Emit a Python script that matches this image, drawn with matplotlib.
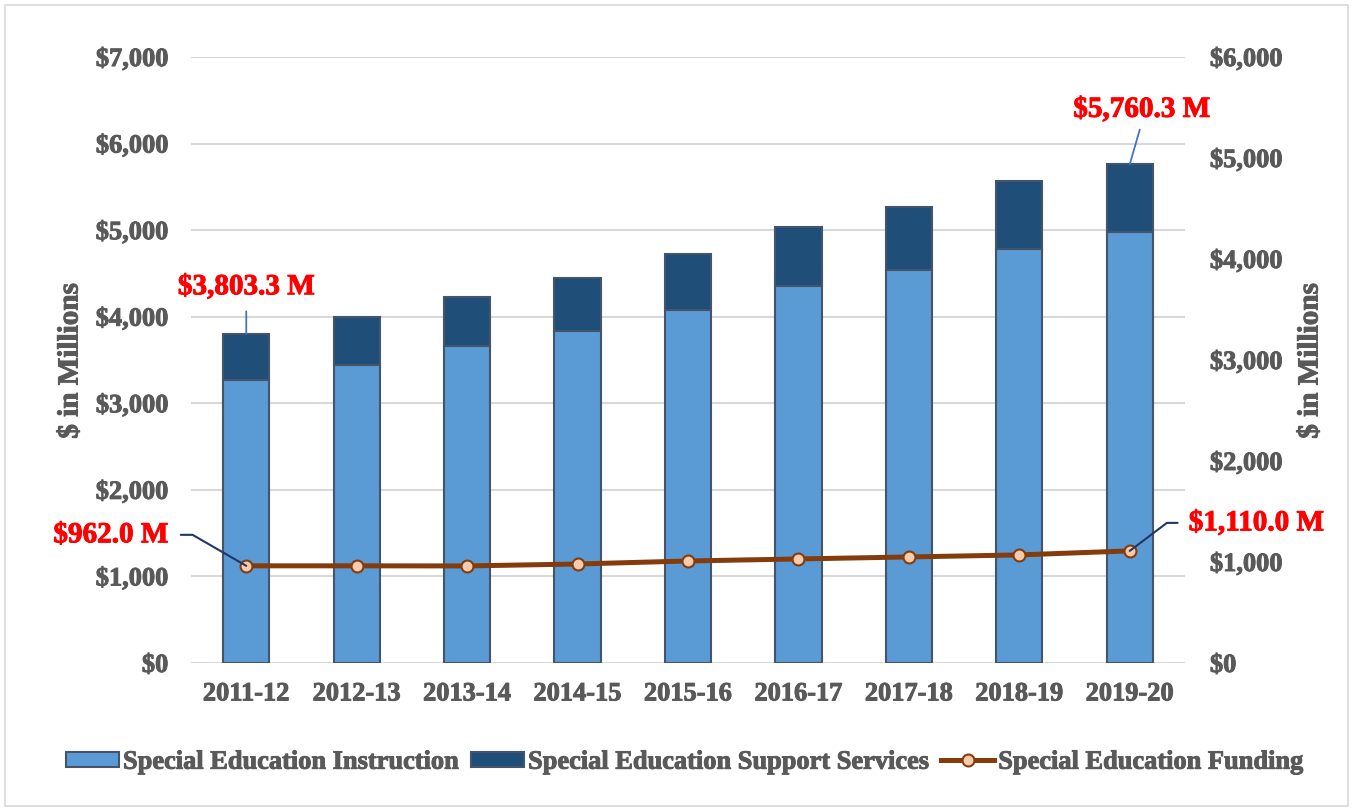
import matplotlib
matplotlib.use("Agg")
import matplotlib.pyplot as plt
import matplotlib.patheffects as pe
from matplotlib.patches import Patch, Rectangle
from matplotlib.lines import Line2D
from matplotlib.ticker import FuncFormatter

# Data ($ in millions)
years = ['2011-12', '2012-13', '2013-14', '2014-15', '2015-16',
         '2016-17', '2017-18', '2018-19', '2019-20']
instruction = [3270, 3442, 3662, 3835, 4078, 4355, 4540, 4782, 4979]
total_spend = [3803.3, 3995, 4228, 4447, 4725, 5036, 5267, 5568, 5760.3]
support = [t - i for t, i in zip(total_spend, instruction)]
funding = [962.0, 962, 961, 980, 1010, 1030, 1050, 1070, 1110.0]

left_ticks = list(range(0, 7001, 1000))
right_ticks = list(range(0, 6001, 1000))

plt.rcParams['font.family'] = ['Liberation Serif', 'DejaVu Serif']
plt.rcParams['font.weight'] = 'bold'

gray = '#595959'
light_blue = '#5B9BD5'
dark_blue = '#1F4E79'
bar_edge = '#44546A'
brown = '#843C0C'
peach = '#F8CBAD'


def heavy(color):
    # thicken glyphs a little, the source was rendered with a heavier bold
    return [pe.withStroke(linewidth=0.7, foreground=color)]


fig = plt.figure(figsize=(13.53, 8.10), dpi=100)
ax = fig.add_axes([0.1412, 0.1815, 0.7346, 0.7481])
ax2 = ax.twinx()

x = list(range(len(years)))
ax.bar(x, instruction, width=0.42, color=light_blue, edgecolor=bar_edge,
       linewidth=1.5, zorder=3)
ax.bar(x, support, bottom=instruction, width=0.42, color=dark_blue,
       edgecolor=bar_edge, linewidth=1.5, zorder=3)

ax2.plot(x, funding, color=brown, lw=3.6, marker='o', ms=8.6,
         mfc=peach, mec=brown, mew=1.5, zorder=4)

money = FuncFormatter(lambda v, p: '${:,.0f}'.format(v))

ax.set_xlim(-0.5, len(years) - 0.5)
ax.set_ylim(0, 7000)
ax.set_yticks(left_ticks)
ax.yaxis.set_major_formatter(money)
ax.set_xticks(x)
ax.set_xticklabels(years)
ax.grid(axis='y', color='#D9D9D9', lw=1.5, zorder=0)
ax.set_axisbelow(True)

ax2.set_ylim(0, 6000)
ax2.set_yticks(right_ticks)
ax2.yaxis.set_major_formatter(money)

for a in (ax, ax2):
    for s in a.spines.values():
        s.set_visible(False)
    a.tick_params(length=0, labelsize=19, labelcolor=gray)
ax.tick_params(axis='y', pad=16.5)
ax.tick_params(axis='x', pad=14)
ax2.tick_params(axis='y', pad=18)

fig.canvas.draw()
for t in ax.get_xticklabels() + ax.get_yticklabels() + ax2.get_yticklabels():
    t.set_fontweight('bold')
    t.set_path_effects(heavy(gray))

for xpos in (70, 1310):
    fig.text(xpos / 1353, 1 - 361 / 810, '$ in Millions', rotation=90,
             ha='center', va='center', fontsize=21, color=gray,
             fontweight='bold', path_effects=heavy(gray))

# callouts
lab = dict(fontsize=21, color='#FF0000', fontweight='bold', va='center',
           path_effects=heavy('#FF0000'))
ax.annotate('${:,.1f} M'.format(total_spend[0]), xy=(0, total_spend[0]),
            xytext=(0, 47), textcoords='offset pixels', ha='center', **lab,
            arrowprops=dict(arrowstyle='-', color='#4472C4', lw=1.3,
                            relpos=(0.5, 0), shrinkA=6, shrinkB=0))
ax.annotate('${:,.1f} M'.format(total_spend[-1]), xy=(8, total_spend[-1]),
            xytext=(12, 55), textcoords='offset pixels', ha='center', **lab,
            arrowprops=dict(arrowstyle='-', color='#4472C4', lw=1.3,
                            relpos=(0.5, 0), shrinkA=3, shrinkB=0))
ax2.annotate('${:,.1f} M'.format(funding[0]), xy=(0, funding[0]),
             xytext=(-78, 31), textcoords='offset pixels', ha='right', **lab,
             arrowprops=dict(arrowstyle='-', color='#1F3864', lw=1.5,
                             relpos=(1, 0.5), shrinkA=7, shrinkB=0,
                             connectionstyle='angle,angleA=0,angleB=-30,rad=0'),
             zorder=5)
ax2.annotate('${:,.1f} M'.format(funding[-1]), xy=(8, funding[-1]),
             xytext=(59, 28), textcoords='offset pixels', ha='left', **lab,
             arrowprops=dict(arrowstyle='-', color='#1F3864', lw=1.5,
                             relpos=(0, 0.5), shrinkA=6, shrinkB=0,
                             connectionstyle='angle,angleA=0,angleB=37,rad=0'),
             zorder=5)

handles = [
    Patch(facecolor=light_blue, edgecolor=bar_edge, linewidth=1.5),
    Patch(facecolor=dark_blue, edgecolor=bar_edge, linewidth=1.5),
    Line2D([], [], color=brown, lw=3.6, marker='o', ms=8.6, mfc=peach,
           mec=brown, mew=1.5),
]
names = ['Special Education Instruction', 'Special Education Support Services',
         'Special Education Funding']
leg = fig.legend(handles, names, loc='center', bbox_to_anchor=(0.506, 0.059),
                 ncol=3, frameon=False, fontsize=19, labelcolor=gray,
                 handlelength=2.0, handleheight=0.5, handletextpad=0.15,
                 columnspacing=0.5)
for t in leg.get_texts():
    t.set_fontweight('bold')
    t.set_path_effects(heavy(gray))

fig.add_artist(Rectangle((0.004, 0.005), 0.992, 0.989, transform=fig.transFigure,
                         fill=False, edgecolor='#D9D9D9', lw=1.2))

fig.savefig('out.png', dpi=100)
